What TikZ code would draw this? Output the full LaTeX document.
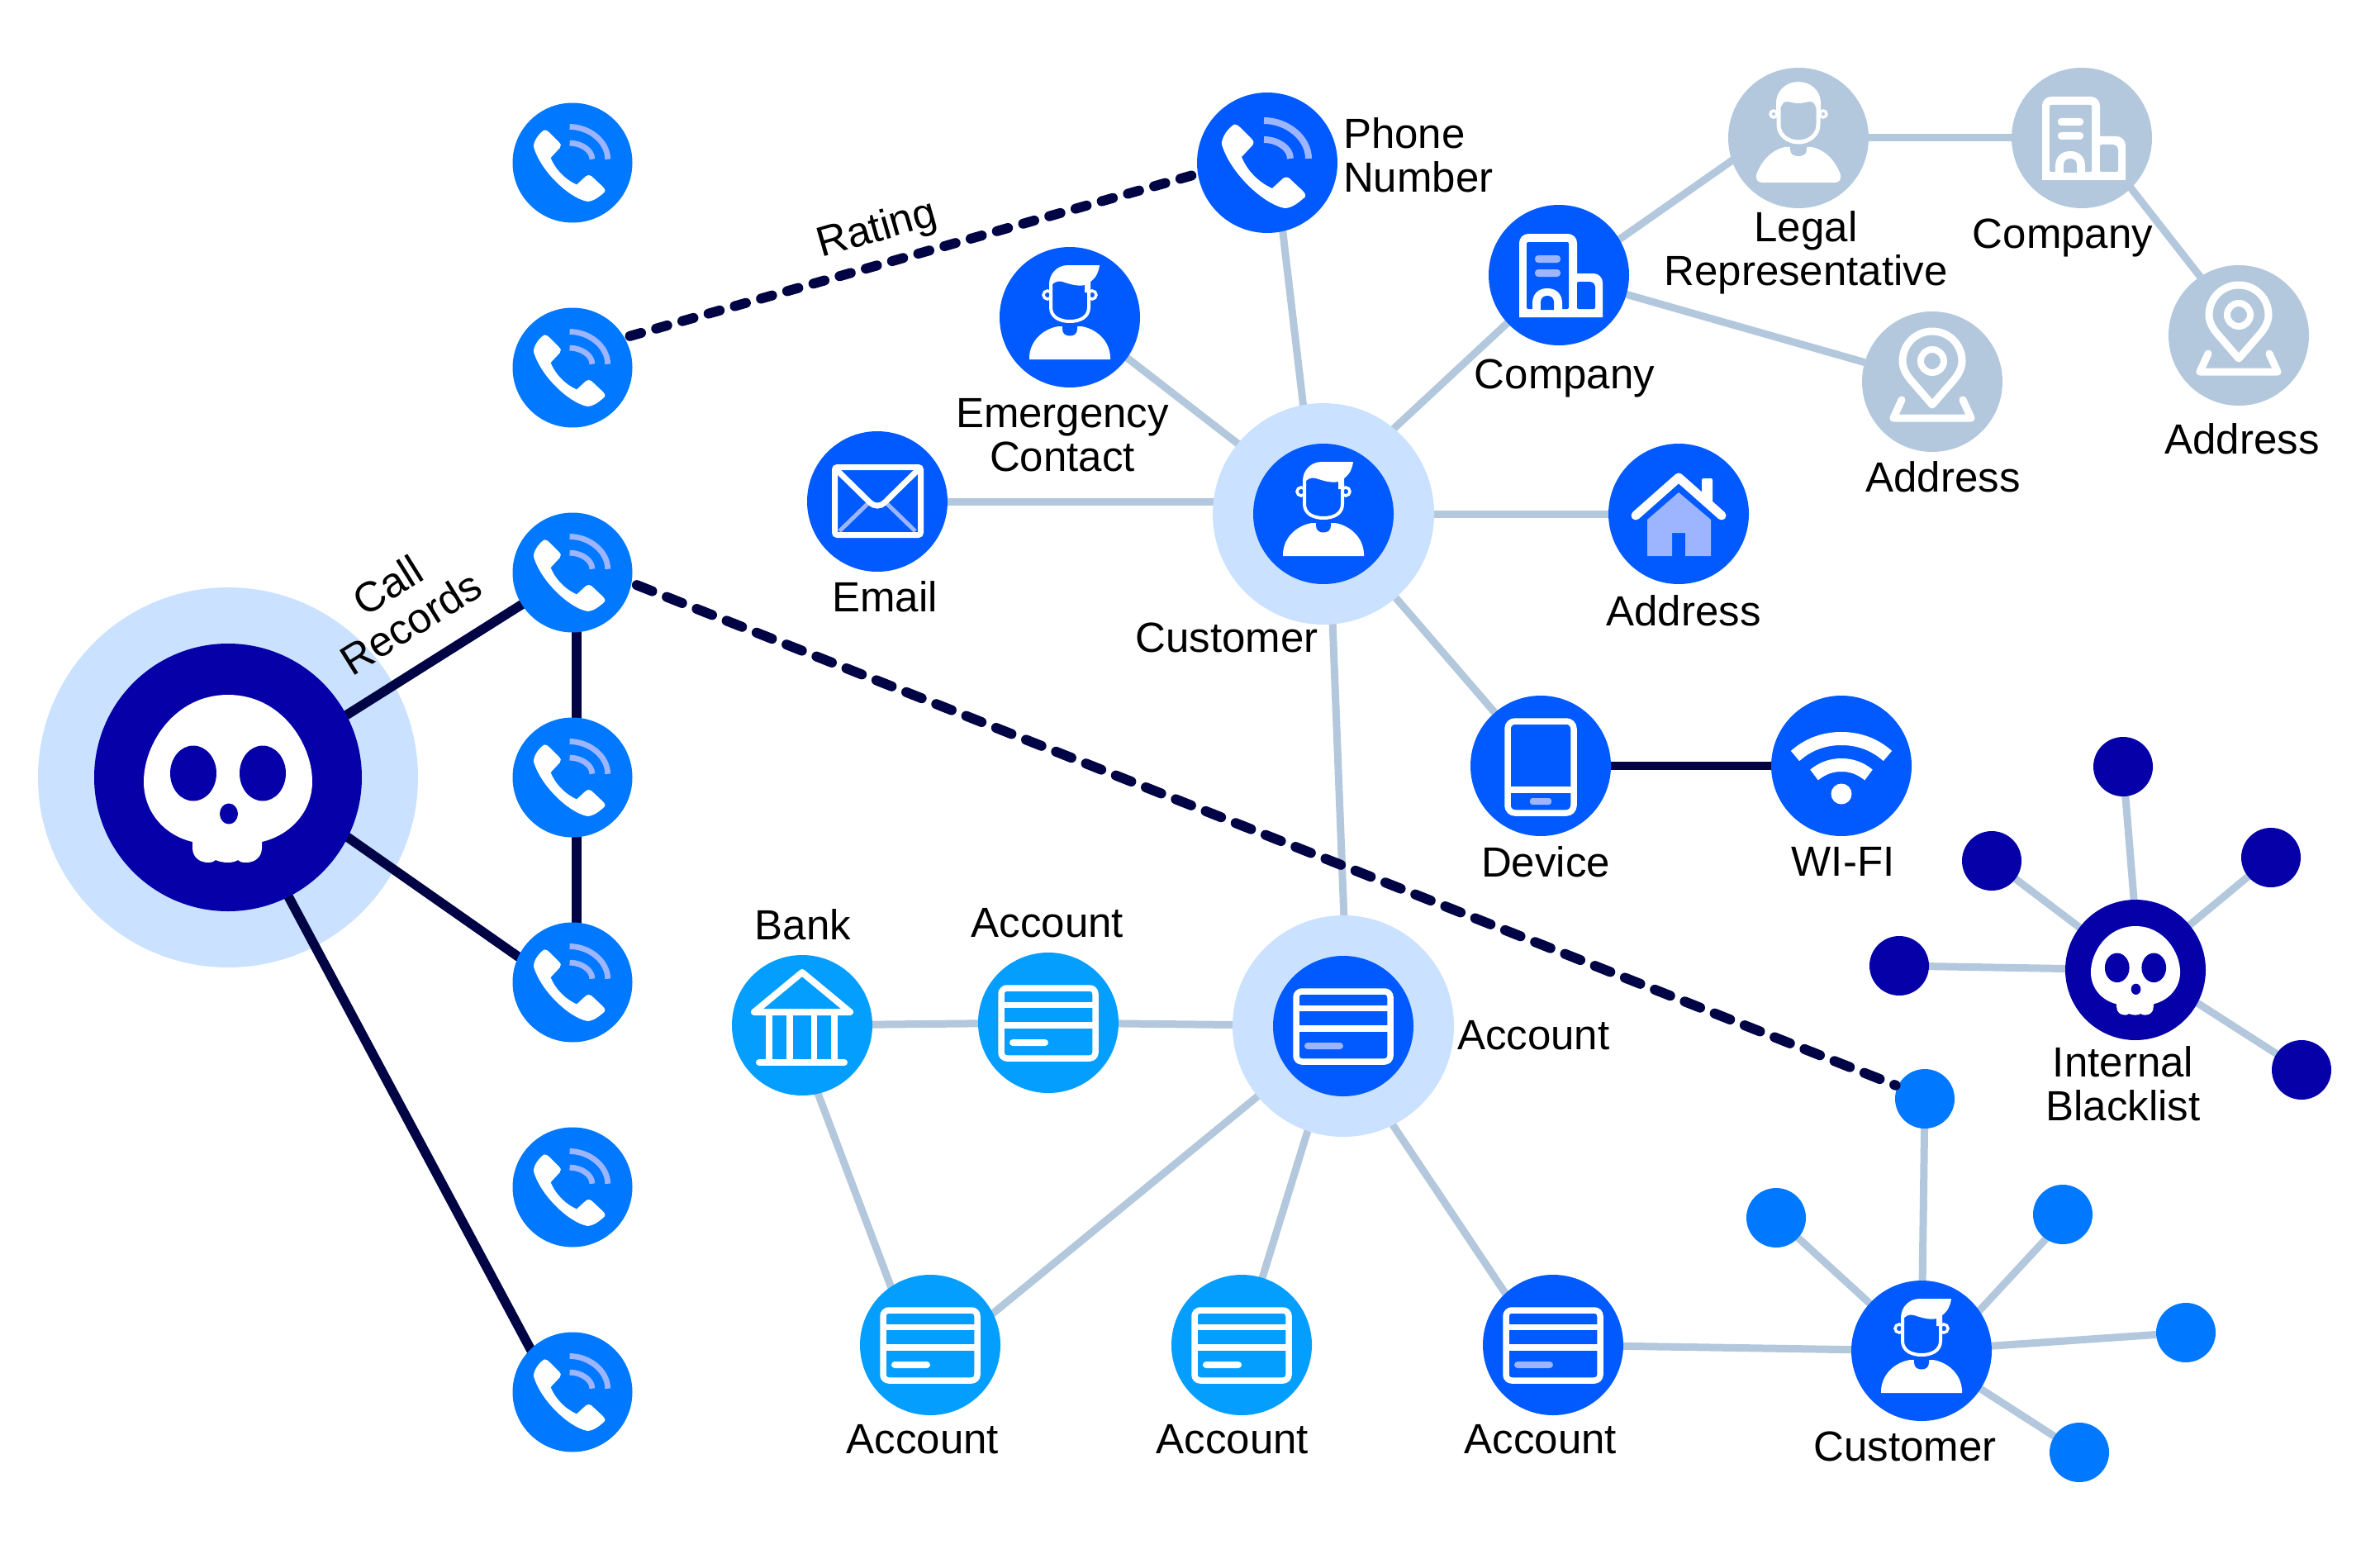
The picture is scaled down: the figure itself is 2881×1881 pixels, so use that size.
\documentclass[tikz,border=0pt]{standalone}
\usepackage{fontspec}
\setmainfont{Liberation Sans}
\pgfdeclarelayer{pale}\pgfdeclarelayer{halo}\pgfdeclarelayer{darkl}
\pgfsetlayers{pale,halo,darkl,main}
\definecolor{cPhone}{HTML}{0078FF}
\definecolor{cBlue}{HTML}{005AFF}
\definecolor{cSky}{HTML}{049EFF}
\definecolor{cPale}{HTML}{B3C8DD}
\definecolor{cHalo}{HTML}{CAE1FF}
\definecolor{cNavy}{HTML}{0500A8}
\definecolor{cInk}{HTML}{000445}
\definecolor{cPeri}{HTML}{9DB5FF}
\tikzset{
  disc/.style 2 args={circle,inner sep=0pt,outer sep=0pt,minimum size=#1,fill=#2},
  phonenode/.style={disc={145pt}{cPhone}},
  bignode/.style={disc={170pt}{#1}},
  haloA/.style={disc={268pt}{cHalo}},
  smalldot/.style={disc={72pt}{cPhone}},
  navydot/.style={disc={72pt}{cNavy}},
  paleline/.style={draw=cPale,line width=9pt},
  darkline/.style={draw=cInk,line width=11.5pt},
  thinink/.style={draw=cInk,line width=9.5pt},
  dashA/.style={draw=cInk,line width=12pt,line cap=round,dash pattern=on 14pt off 19pt,shorten <=7pt,shorten >=3pt},
  dashB/.style={draw=cInk,line width=12pt,line cap=round,dash pattern=on 20pt off 19pt,shorten <=7pt,shorten >=3pt},
  lbl/.style={inner sep=0pt,outer sep=0pt,align=center,text=black,font=\fontsize{51}{53}\selectfont},
  pics/phoneicon/.style={code={
    \begin{scope}[scale=#1]
    \fill[white] (-40,-46.5) .. controls (-37,-46.5) and (-35,-45) .. (-33,-43) -- (-19,-29) .. controls (-16,-26) and (-16,-24) .. (-18,-21) -- (-31,-7) .. controls (-25,8) and (-12,23) .. (6,31) -- (19,19) .. controls (21,17) and (25,17) .. (27,19) -- (43,34) .. controls (47,38) and (47,41) .. (44,43) .. controls (38,48) and (30,55) .. (21,55) .. controls (-5,50) and (-45,12) .. (-55,-22) .. controls (-56,-28) and (-50,-40) .. (-40,-46.5) -- cycle;
    \draw[cPeri,line width=#1*8pt] (-4,-51) .. controls (24,-51) and (50,-30) .. (50,-5);
    \draw[cPeri,line width=#1*8pt] (-4,-28) .. controls (12,-28) and (28,-18) .. (28,-5);
    \end{scope}
  }},
  pics/personA/.style={code={
    \fill[white] (-49,51) -- (-49,48) .. controls (-48,28) and (-32,14) .. (-14,11) -- (14,11) .. controls (32,14) and (48,28) .. (49,48) -- (49,51) -- cycle;
    \fill[#1] (-9,5) -- (-9,14) .. controls (-9,20) and (-5,22.5) .. (0,22.5) .. controls (5,22.5) and (9,20) .. (9,14) -- (9,5) -- cycle;
    \draw[white,line width=3.5pt,fill=#1] (-27,-27) circle (5);
    \draw[white,line width=3.5pt,fill=#1] (27,-27) circle (5);
    \fill[#1] (-23,-46) -- (-23,-12) .. controls (-23,0) and (-12,5) .. (0,5) .. controls (12,5) and (23,0) .. (23,-12) -- (23,-46) -- cycle;
    \draw[white,line width=4pt] (-23,-36) -- (-23,-12) .. controls (-23,0) and (-12,5) .. (0,5) .. controls (12,5) and (23,0) .. (23,-12) -- (23,-36);
    \fill[white] (36,-63) -- (-2,-63) .. controls (-16,-63) and (-25,-52) .. (-25,-40) -- (-25,-34) -- (-21,-34) -- (-21,-40) .. controls (-17,-44) and (-12,-44) .. (-9,-43) .. controls (0,-40) and (10,-37) .. (18,-39) -- (18,-30) -- (25,-30) -- (25,-43) .. controls (32,-48) and (35,-55) .. (36,-63) -- cycle;
  }},
  pics/personB/.style={code={
    \fill[white] (-44,54) .. controls (-50,54) and (-53,49) .. (-50,42) .. controls (-44,27) and (-32,14) .. (-16,11) -- (16,11) .. controls (32,14) and (44,27) .. (50,42) .. controls (53,49) and (50,54) .. (44,54) -- cycle;
    \fill[cPale] (-10,5) -- (-10,14) .. controls (-10,20) and (-5,22) .. (0,22) .. controls (5,22) and (10,20) .. (10,14) -- (10,5) -- cycle;
    \draw[white,line width=3.5pt,fill=cPale] (-30,-29) circle (4);
    \draw[white,line width=3.5pt,fill=cPale] (30,-29) circle (4);
    \fill[cPale] (-24,-46) -- (-24,-16) .. controls (-24,-3) and (-12,5) .. (0,5) .. controls (12,5) and (24,-3) .. (24,-16) -- (24,-46) -- cycle;
    \draw[white,line width=5pt] (-24,-34) -- (-24,-16) .. controls (-24,-3) and (-12,5) .. (0,5) .. controls (12,5) and (24,-3) .. (24,-16) -- (24,-34);
    \fill[white] (-27,-32) -- (-27,-42) .. controls (-27,-58) and (-14,-68) .. (0,-68) .. controls (14,-68) and (27,-58) .. (27,-42) -- (27,-32) -- (22,-32) .. controls (22,-36) and (20,-44) .. (15,-44) .. controls (10,-44) and (6,-42) .. (0,-42) .. controls (-6,-42) and (-10,-44) .. (-15,-44) .. controls (-20,-44) and (-22,-36) .. (-22,-32) -- cycle;
  }},
  pics/building/.style 2 args={code={
    \fill[white] (-48,51) -- (-48,-40) [rounded corners=11pt] -- (-48,-50) -- (22,-50) -- (22,-20) [sharp corners] -- (22,-2) [rounded corners=11pt] -- (53,-2) -- (53,20) [sharp corners] -- (53,51) -- cycle;
    \fill[#1,rounded corners=2pt] (-39,41) -- (-39,-40) -- (12,-40) -- (12,41) -- cycle;
    \fill[#1,rounded corners=2pt] (22,41) -- (22,8) -- (40,8) -- (44,12) -- (44,41) -- cycle;
    \fill[#2,rounded corners=4pt] (-29,-24) rectangle (2,-15);
    \fill[#2,rounded corners=4pt] (-29,-7) rectangle (2,2);
    \fill[white] (-32,42) -- (-32,34) .. controls (-32,23) and (-25,16) .. (-14,16) .. controls (-3,16) and (4,23) .. (4,34) -- (4,42) -- cycle;
    \fill[#1] (-22,42) -- (-22,33) .. controls (-22,28) and (-19,25) .. (-14,25) .. controls (-9,25) and (-6,28) .. (-6,33) -- (-6,42) -- cycle;
  }},
  pics/pin/.style={code={
    \begin{scope}[white,line width=9pt,line join=round,line cap=round]
    \draw (0,28) -- (-26,-2) .. controls (-32,-9) and (-36,-17) .. (-36,-25) .. controls (-36,-45) and (-20,-61) .. (0,-61) .. controls (20,-61) and (36,-45) .. (36,-25) .. controls (36,-17) and (32,-9) .. (26,-2) -- cycle;
    \draw[line width=8pt] (0,-25) circle (14);
    \draw (-37,22) -- (-47,44) -- (47,44) -- (37,22);
    \end{scope}
  }},
  pics/house/.style={code={
    \fill[cPeri] (0,-26) -- (39,7) -- (39,51) -- (8,51) -- (8,23) -- (-8,23) -- (-8,51) -- (-38,51) -- (-38,7) -- cycle;
    \fill[white,rounded corners=2pt] (28,-15) -- (28,-43) -- (41,-43) -- (41,-5) -- cycle;
    \draw[white,line width=11pt,line cap=round,line join=round] (-52,2) -- (0,-44) -- (52,2);
  }},
  pics/envelope/.style={code={
    \draw[cPeri,line width=5pt] (-46,36) -- (-12,3) (46,36) -- (12,3);
    \draw[white,line width=7pt,rounded corners=3pt] (-51.5,-41.5) rectangle (52.5,40.5);
    \draw[white,line width=7pt,rounded corners=12pt] (-49,-38) -- (0,10) -- (49,-38);
  }},
  pics/tablet/.style={code={
    \draw[white,line width=7.5pt,rounded corners=9pt] (-40,-54) rectangle (40,57);
    \draw[white,line width=7.5pt] (-40,29) -- (40,29);
    \fill[cPeri,rounded corners=3pt] (-13,39) rectangle (13,47);
  }},
  pics/wifi/.style={code={
    \begin{scope}[white,line join=round]
    \draw[line width=16pt] (-56,-12) .. controls (-38,-28) and (-18,-33) .. (0,-33) .. controls (18,-33) and (38,-28) .. (56,-12);
    \draw[line width=16pt] (-33,11) .. controls (-22,2) and (-11,-1) .. (0,-1) .. controls (11,-1) and (22,2) .. (33,11);
    \fill (0,34) circle (12.5);
    \end{scope}
  }},
  pics/bank/.style={code={
    \begin{scope}[white,line join=round,line cap=round]
    \draw[line width=8pt] (0,-64) -- (-58,-16) -- (58,-16) -- cycle;
    \draw[line width=7.5pt,line cap=butt] (-40,-12) -- (-40,45) (-15,-12) -- (-15,45) (14.5,-12) -- (14.5,45) (39,-12) -- (39,45);
    \draw[line width=8pt] (-52,45) -- (51,45);
    \end{scope}
  }},
  pics/card/.style 2 args={code={
    \draw[white,line width=7.5pt,rounded corners=7pt] (-57,-42) rectangle (57,43);
    \fill[white] (-57,-25) rectangle (57,-18);
    \fill[white] (-57,-1) rectangle (57,7);
    \fill[#2,rounded corners=4pt] (-47,20) rectangle (0,28);
  }},
  pics/skull/.style={code={
    \fill[white] (0,-100) .. controls (65,-100) and (102,-40) .. (102,5) .. controls (102,42) and (75,70) .. (41,78) -- (41,85) .. controls (41,97) and (32,103) .. (22,103) .. controls (16,103) and (14,102) .. (12,100) .. controls (6,104) and (-6,104) .. (-15,100) .. controls (-17,102) and (-20,103) .. (-24,103) .. controls (-34,103) and (-43,97) .. (-43,85) -- (-43,78) .. controls (-77,70) and (-102,42) .. (-102,5) .. controls (-102,-40) and (-65,-100) .. (0,-100) -- cycle;
    \fill[cNavy] (-42,-5) ellipse (28 and 33.5);
    \fill[cNavy] (42,-5) ellipse (28 and 33.5);
    \fill[cNavy] (1,44) ellipse (11 and 12.5);
  }},
}
\begin{document}
\begin{tikzpicture}[x=1pt,y=-1pt]
\useasboundingbox (0,0) rectangle (2881,1881);
% halos
\begin{pgfonlayer}{halo}
\node[disc={460pt}{cHalo}] (skullH) at (276,941) {};
\node[haloA] (custH) at (1602,622) {};
\node[haloA] (acctH) at (1626,1242) {};
\end{pgfonlayer}
% phones
\node[phonenode] (ph1) at (693,197) {};
\node[phonenode] (ph2) at (693,445) {};
\node[phonenode] (ph3) at (693,693) {};
\node[phonenode] (ph4) at (693,941) {};
\node[phonenode] (ph5) at (693,1189) {};
\node[phonenode] (ph6) at (693,1437) {};
\node[phonenode] (ph7) at (693,1685) {};
\foreach \n in {ph1,ph2,ph3,ph4,ph5,ph6,ph7} \pic at (\n) {phoneicon=0.853};
% skull
\node[disc={324pt}{cNavy}] (skull) at (276,941) {};
\pic at (skull) {skull};
% main graph nodes
\node[bignode=cBlue] (phn) at (1534,197) {};
\pic at (phn) {phoneicon=1};
\node[bignode=cBlue] (emg) at (1295,384) {};
\pic at (emg) {personA=cBlue};
\node[bignode=cBlue] (email) at (1062,607) {};
\pic at (email) {envelope};
\node[bignode=cBlue] (cust) at (1602,622) {};
\pic at (cust) {personA=cBlue};
\node[bignode=cBlue] (comp) at (1887,333) {};
\pic at (comp) {building={cBlue}{cPeri}};
\node[bignode=cPale] (legal) at (2177,167) {};
\pic at (legal) {personB};
\node[bignode=cPale] (comp2) at (2520,167) {};
\pic at (comp2) {building={cPale}{white}};
\node[bignode=cPale] (addrR) at (2710,406) {};
\pic at (addrR) {pin};
\node[bignode=cPale] (addrM) at (2339,462) {};
\pic at (addrM) {pin};
\node[bignode=cBlue] (house) at (2032,622) {};
\pic at (house) {house};
\node[bignode=cBlue] (dev) at (1865,927) {};
\pic at (dev) {tablet};
\node[bignode=cBlue] (wifi) at (2229,927) {};
\pic at (wifi) {wifi};
\node[bignode=cBlue] (acct) at (1626,1242) {};
\pic at (acct) {card={cBlue}{cPeri}};
\node[bignode=cSky] (bank) at (971,1241) {};
\pic at (bank) {bank};
\node[bignode=cSky] (acct2) at (1269,1238) {};
\pic at (acct2) {card={cSky}{white}};
\node[bignode=cSky] (a1) at (1126,1628) {};
\pic at (a1) {card={cSky}{white}};
\node[bignode=cSky] (a2) at (1503,1628) {};
\pic at (a2) {card={cSky}{white}};
\node[bignode=cBlue] (a3) at (1880,1628) {};
\pic at (a3) {card={cBlue}{cPeri}};
\node[bignode=cBlue] (custB) at (2326,1635) {};
\pic at (custB) {personA=cBlue};
\node[smalldot] (d1) at (2330,1330) {};
\node[smalldot] (d2) at (2150,1474) {};
\node[smalldot] (d3) at (2497,1470) {};
\node[smalldot] (d4) at (2646,1613) {};
\node[smalldot] (d5) at (2517,1758) {};
\node[bignode=cNavy] (bl) at (2585,1174) {};
\pic[scale=0.53] at (bl) {skull};
\node[navydot] (n1) at (2570,928) {};
\node[navydot] (n2) at (2411,1042) {};
\node[navydot] (n3) at (2749,1038) {};
\node[navydot] (n4) at (2299,1169) {};
\node[navydot] (n5) at (2786,1295) {};
% connectors
\begin{pgfonlayer}{pale}
\foreach \a/\b in {custH/house,custH/dev,comp/addrM,legal/comp2,bank/acct2,acct2/acctH,a3/custB,custB/d1,custB/d2,custB/d4,custB/d5,bl/n2,bl/n3,bl/n4}
  \draw[paleline] (\a) -- (\b);
\draw[paleline] (email.center) -- (email.center -| custH.center);
\draw[paleline] ([xshift=9pt]phn.center) -- ([xshift=-9pt]custH.center);
\draw[paleline] ([xshift=6pt]emg.center) -- ([xshift=6pt]custH.center);
\draw[paleline] (comp.center) -- ([yshift=24pt]custH.center);
\draw[paleline] ([yshift=-8pt]comp.center) -- ([yshift=29pt]legal.center);
\draw[paleline] ([xshift=12pt]comp2.center) -- ([xshift=9pt]addrR.center);
\draw[paleline] ([xshift=6pt]custH.center) -- ([xshift=6pt]acctH.center);
\draw[paleline] ([xshift=-12pt]bank.center) -- ([xshift=-21pt]a1.center);
\draw[paleline] (acctH.center) -- ([yshift=-24pt]a1.center);
\draw[paleline] ([xshift=-4pt]acctH.center) -- (a2.center);
\draw[paleline] ([xshift=-20pt]acctH.center) -- ([xshift=-16pt]a3.center);
\draw[paleline] ([xshift=25pt]custB.center) -- ([xshift=7pt]d3.center);
\draw[paleline] ([xshift=5pt]bl.center) -- (n1.center);
\draw[paleline] ([yshift=8pt]bl.center) -- (n5.center);
\end{pgfonlayer}
\begin{pgfonlayer}{darkl}
\draw[darkline] ([yshift=-15pt]skull.center) -- (ph3.center);
\draw[darkline] ([yshift=29pt]skull.center) -- ([yshift=-15pt]ph5.center);
\draw[darkline] ([xshift=-4pt]skull.center) -- ([xshift=-23pt]ph7.center);
\draw[darkline] ([xshift=5pt]ph3.center) -- ([xshift=5pt]ph4.center);
\draw[darkline] ([xshift=5pt]ph4.center) -- ([xshift=5pt]ph5.center);
\draw[thinink] (dev) -- (wifi);
\end{pgfonlayer}
\draw[dashA] (ph2.30) -- (phn.189);
\draw[dashB] (ph3.-10) -- (d1.155);
% labels
\node[lbl,rotate=16] (tRating) at (1062,279) {Rating};
\node[lbl,rotate=32] (tCall) at (483,731) {Call\\Records};
\node[lbl,anchor=west,align=left] (tPhone) at (1626,188) {Phone\\Number};
\node[lbl] (tEmg) at (1286,527) {Emergency\\Contact};
\node[lbl] (tEmail) at (1071,722) {Email};
\node[lbl] (tCust) at (1485,772) {Customer};
\node[lbl] (tComp) at (1894,458) {Company};
\node[lbl] (tLegal) at (2186,306) {Legal\\Representative};
\node[lbl] (tComp2) at (2497,288) {Company};
\node[lbl] (tAddrM) at (2352,577) {Address};
\node[lbl] (tAddrR) at (2714,531) {Address};
\node[lbl] (tHouse) at (2038,739) {Address};
\node[lbl] (tDev) at (1871,1043) {Device};
\node[lbl] (tWifi) at (2231,1043) {WI-FI};
\node[lbl] (tBL) at (2570,1312) {Internal\\Blacklist};
\node[lbl] (tBank) at (972,1119) {Bank};
\node[lbl] (tAcct2) at (1268,1117) {Account};
\node[lbl,anchor=west] (tAcct) at (1764,1253) {Account};
\node[lbl] (tA1) at (1117,1742) {Account};
\node[lbl] (tA2) at (1492,1742) {Account};
\node[lbl] (tA3) at (1865,1742) {Account};
\node[lbl] (tCustB) at (2306,1751) {Customer};
\end{tikzpicture}
\end{document}
